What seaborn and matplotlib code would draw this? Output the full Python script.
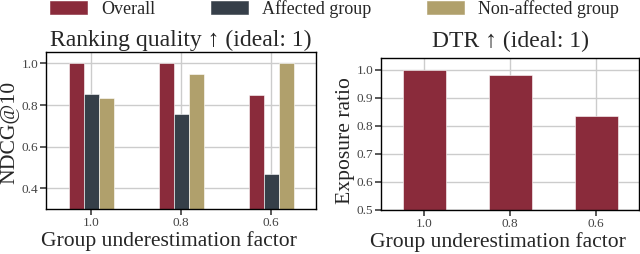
import numpy as np
import pandas as pd
import matplotlib
matplotlib.use("Agg")
import matplotlib.pyplot as plt
import matplotlib.patches as mpatches
import seaborn as sns

# ---------------------------------------------------------------------------
# data
# ---------------------------------------------------------------------------
FACTORS = ["1.0", "0.8", "0.6"]
GROUPS = ["Overall", "Affected group", "Non-affected group"]
NDCG_OVERALL = [1.0, 1.0, 0.85]
NDCG_AFFECTED = [0.852, 0.756, 0.466]
NDCG_NON_AFFECTED = [0.836, 0.948, 1.0]
DTR = [1.0, 0.98, 0.835]

COLORS = ["#8a2b3b", "#363f49", "#b0a06c"]

sns.set_theme(style="whitegrid", rc={
    "axes.edgecolor": "black",
    "axes.linewidth": 1.0,
    "grid.color": "#cccccc",
    "grid.linewidth": 1.0,
    "xtick.bottom": True,
    "ytick.left": True,
    "xtick.major.size": 4,
    "ytick.major.size": 4,
    "xtick.color": "#444444",
    "ytick.color": "#444444",
    "patch.linewidth": 0.4,
})
plt.rcParams["font.family"] = ["Liberation Serif", "DejaVu Serif"]

TITLE_SIZE = 17
LABEL_SIZE = 15.6
LEGEND_SIZE = 13
TICK_SIZE = 9.5

ndcg = pd.DataFrame({
    "factor": FACTORS * 3,
    "group": [g for g in GROUPS for _ in FACTORS],
    "value": NDCG_OVERALL + NDCG_AFFECTED + NDCG_NON_AFFECTED,
})
dtr = pd.DataFrame({"factor": FACTORS, "value": DTR})

fig = plt.figure(figsize=(6.4, 2.54), dpi=100)
ax1 = fig.add_axes([46 / 640, 45 / 254, 270 / 640, 157 / 254])
ax2 = fig.add_axes([381 / 640, 44 / 254, 258 / 640, 152 / 254])

# left: ranking quality per group
sns.barplot(data=ndcg, x="factor", y="value", hue="group", order=FACTORS,
            hue_order=GROUPS, palette=COLORS, width=0.5, saturation=1,
            errorbar=None, legend=False, ax=ax1)
ax1.set_xlim(-0.5, 2.5)
ax1.set_ylim(0.3, 1.055)
ax1.set_yticks([0.4, 0.6, 0.8, 1.0])
ax1.set_title("Ranking quality ↑ (ideal: 1)", fontsize=TITLE_SIZE, pad=4.3)
ax1.set_ylabel("NDCG@10", fontsize=LABEL_SIZE, labelpad=1.5)
ax1.set_xlabel("Group underestimation factor", fontsize=LABEL_SIZE, labelpad=2)
ax1.xaxis.label.set_x(0.454)
ax1.yaxis.label.set_y(0.487)

# right: disparate treatment ratio
sns.barplot(data=dtr, x="factor", y="value", order=FACTORS, color=COLORS[0],
            width=0.5, saturation=1, errorbar=None, ax=ax2)
ax2.set_xlim(-0.5, 2.5)
ax2.set_ylim(0.5, 1.042)
ax2.set_yticks([0.5, 0.6, 0.7, 0.8, 0.9, 1.0])
ax2.set_title("DTR ↑ (ideal: 1)", fontsize=TITLE_SIZE, pad=8)
ax2.set_ylabel("Exposure ratio", fontsize=LABEL_SIZE, labelpad=1)
ax2.set_xlabel("Group underestimation factor", fontsize=LABEL_SIZE, labelpad=2)
ax2.xaxis.label.set_x(0.452)
ax2.yaxis.label.set_y(0.46)

for ax in (ax1, ax2):
    ax.tick_params(labelsize=TICK_SIZE, pad=1.5)
    ax.xaxis.grid(True)
    ax.yaxis.grid(True)
    ax.set_axisbelow(True)
    for spine in ax.spines.values():
        spine.set_visible(True)

handles = [mpatches.Patch(color=c, label=g) for c, g in zip(COLORS, GROUPS)]
fig.legend(handles=handles, loc="center", bbox_to_anchor=(0.5227, 1 - 9 / 254),
           ncol=3, frameon=False, fontsize=LEGEND_SIZE, handlelength=2.05,
           handletextpad=0.8, columnspacing=3.05)

fig.savefig("out.png", dpi=100)
plt.close()
